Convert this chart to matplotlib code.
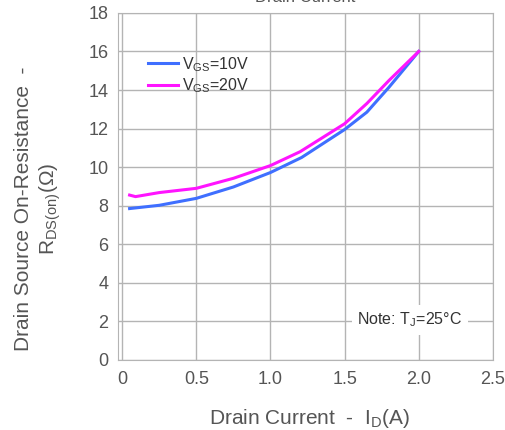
import matplotlib.pyplot as plt
import numpy as np

plt.rcParams['font.family'] = ['Liberation Sans', 'DejaVu Sans']
plt.rcParams['mathtext.fontset'] = 'custom'
plt.rcParams['mathtext.rm'] = 'Liberation Sans'

# drain current (A) vs on-resistance (ohm)
id_10v = [0.05, 0.25, 0.5, 0.75, 1.0, 1.21, 1.5, 1.65, 1.8, 2.0]
rds_10v = [7.85, 8.02, 8.38, 8.97, 9.72, 10.5, 11.95, 12.85, 14.15, 16.0]
id_20v = [0.05, 0.09, 0.25, 0.5, 0.75, 1.0, 1.2, 1.5, 1.65, 1.8, 2.0]
rds_20v = [8.55, 8.47, 8.68, 8.9, 9.42, 10.08, 10.8, 12.25, 13.3, 14.5, 16.0]

x_ticks = [0, 0.5, 1.0, 1.5, 2.0, 2.5]
x_labels = ['0', '0.5', '1.0', '1.5', '2.0', '2.5']
y_ticks = list(range(0, 19, 2))

txt = '#555555'
grid_c = '#b4b4b4'

fig = plt.figure(figsize=(5.05, 4.30), dpi=100)
ax = fig.add_axes([0.234, 0.163, 0.742, 0.807])

ax.plot(id_10v, rds_10v, color='#3f6fff', lw=2.2, label=r'V$\mathregular{_{GS}}$=10V')
ax.plot(id_20v, rds_20v, color='#ff14ff', lw=2.2, label=r'V$\mathregular{_{GS}}$=20V')

ax.set_xlim(-0.027, 2.5)
ax.set_ylim(0, 18)
ax.set_xticks(x_ticks)
ax.set_xticklabels(x_labels)
ax.set_yticks(y_ticks)
ax.grid(True, color=grid_c, lw=1.0)
ax.set_axisbelow(True)
for s in ax.spines.values():
    s.set_color(grid_c)
ax.tick_params(length=0, labelsize=13, colors=txt)
ax.tick_params(axis='x', pad=8)
ax.tick_params(axis='y', pad=7)

ax.set_xlabel('Drain Current  -  I$\\mathregular{_D}$(A)', fontsize=15, color=txt)
ax.xaxis.set_label_coords(0.51, -0.135)
ax.set_ylabel('Drain Source On-Resistance  -\nR$\\mathregular{_{DS(on)}}$(Ω)', fontsize=15,
              color=txt, linespacing=1.25)
ax.yaxis.set_label_coords(-0.148, 0.435)

leg = ax.legend(loc='upper left', bbox_to_anchor=(0.04, 0.92), frameon=False, fontsize=11.5,
                handlelength=1.9, handletextpad=0.25, labelspacing=0.15)
for t in leg.get_texts():
    t.set_color('#333333')

ax.text(1.94, 2.07, 'Note: T$\\mathregular{_J}$=25°C', fontsize=11.5, color='#333333',
        ha='center', va='center', bbox=dict(facecolor='white', edgecolor='none', pad=4))

# title is only partly visible at the top edge in the source
fig.text(0.605, 1.005, 'Drain Current', fontsize=12, color=txt, ha='center', va='center')

fig.savefig('out.png', dpi=100)
